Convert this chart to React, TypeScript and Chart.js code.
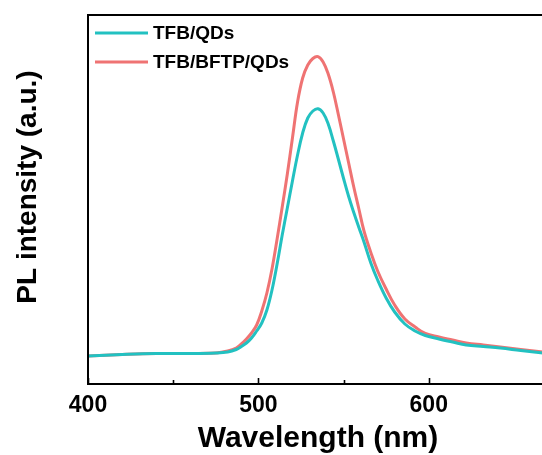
import { useEffect, useRef } from "react";
import { Chart, registerables } from "chart.js";

Chart.register(...registerables);

// Emission wavelength grid (nm)
const wavelengths = [
  400, 420, 440, 460, 475, 482, 487, 490, 493, 496, 499, 502, 505, 508, 511, 514,
  517, 520, 523, 526, 529, 532, 535, 538, 541, 544, 547, 550, 553, 556, 559, 562,
  566, 570, 575, 580, 586, 592, 598, 606, 614, 622, 632, 642, 654, 667,
];

// PL intensity (a.u.) for each film stack
const tfbQds = [
  28, 29.5, 30.5, 30.5, 31, 32, 34.5, 37.5, 41, 46, 53, 61, 74, 94, 120, 149,
  176, 203, 229, 251, 266, 273, 275.3, 271, 260, 243, 224.5, 205.5, 187.5, 171.5, 156.5, 142,
  121, 104, 86, 72, 60, 53, 48.5, 45, 42, 39, 37.5, 36, 33.5, 31,
];
const tfbBftpQds = [
  28, 29.5, 30.5, 30.5, 31, 33, 36, 40, 45, 51, 59, 73, 91, 115, 145, 177,
  210, 246, 282, 306, 319, 325.5, 327.3, 322, 310, 292, 269, 245, 221, 197, 175, 153,
  131.5, 113, 95, 79, 65, 57, 50.5, 47, 44, 41, 39, 37, 34.5, 32,
];

const seriesLabels = ["TFB/QDs", "TFB/BFTP/QDs"];
const seriesColors = ["#22c1c1", "#ef7373"];

const xTitle = "Wavelength (nm)";
const yTitle = "PL intensity (a.u.)";

const X_MIN = 400;
const X_MAX = 670;
const X_STEP = 50;
const X_LABEL_STEP = 100;
const Y_MIN = 0;
const Y_MAX = 369;

const FONT = 'Arial, "Liberation Sans", Helvetica, sans-serif';

// Closed frame, inward tick marks, the vertical axis title and the in-plot legend
const framePlugin = {
  id: "frameAndLegend",
  afterDraw(chart: any) {
    const { ctx, chartArea: a, scales } = chart;
    ctx.save();
    ctx.strokeStyle = "#000";
    ctx.lineWidth = 2;
    ctx.strokeRect(a.left, a.top, a.right - a.left, a.bottom - a.top);

    const xs = scales.x;
    ctx.lineWidth = 1.6;
    xs.ticks.forEach((t: any) => {
      const px = Math.round(xs.getPixelForValue(t.value)) + 0.5;
      const len = t.value % X_LABEL_STEP === 0 ? 6 : 4;
      ctx.beginPath();
      ctx.moveTo(px, a.bottom);
      ctx.lineTo(px, a.bottom - len);
      ctx.stroke();
    });

    // vertical axis title
    ctx.save();
    ctx.translate(28, 187);
    ctx.rotate(-Math.PI / 2);
    ctx.fillStyle = "#000";
    ctx.font = `bold 28px ${FONT}`;
    ctx.textAlign = "center";
    ctx.textBaseline = "middle";
    ctx.fillText(yTitle, 0, 0);
    ctx.restore();

    chart.data.datasets.forEach((ds: any, i: number) => {
      const y = a.top + 18 + i * 29;
      ctx.strokeStyle = ds.borderColor;
      ctx.lineWidth = 3;
      ctx.beginPath();
      ctx.moveTo(a.left + 7, y);
      ctx.lineTo(a.left + 60, y);
      ctx.stroke();
      ctx.fillStyle = "#000";
      ctx.font = `bold 19px ${FONT}`;
      ctx.textBaseline = "middle";
      ctx.textAlign = "left";
      ctx.fillText(ds.label, a.left + 65, y + 1);
    });
    ctx.restore();
  },
};

export default function App() {
  const canvasRef = useRef<HTMLCanvasElement | null>(null);

  useEffect(() => {
    const canvas = canvasRef.current;
    if (!canvas) return;
    const series = [tfbQds, tfbBftpQds];
    const chart = new Chart(canvas, {
      type: "line",
      data: {
        datasets: series.map((vals, i) => ({
          label: seriesLabels[i],
          data: wavelengths.map((w, j) => ({ x: w, y: vals[j] })),
          borderColor: seriesColors[i],
          borderWidth: 3,
          pointRadius: 0,
          fill: false,
          tension: 0.4,
        })),
      },
      options: {
        responsive: false,
        animation: false,
        events: [],
        layout: { padding: { top: 15, right: 12, bottom: 0, left: 0 } },
        plugins: {
          legend: { display: false },
          tooltip: { enabled: false },
        },
        scales: {
          x: {
            type: "linear",
            min: X_MIN,
            max: X_MAX,
            grid: { display: false, drawTicks: false },
            border: { display: false },
            ticks: {
              stepSize: X_STEP,
              autoSkip: false,
              maxRotation: 0,
              padding: 8,
              color: "#000",
              font: { family: FONT, size: 23, weight: "bold" },
              callback: (v: any) => (Number(v) % X_LABEL_STEP === 0 ? String(v) : ""),
            },
            title: {
              display: true,
              text: xTitle,
              color: "#000",
              font: { family: FONT, size: 30, weight: "bold" },
              padding: { top: 0, bottom: -2 },
            },
            afterFit: (scale: any) => {
              scale.height = 71;
            },
          },
          y: {
            min: Y_MIN,
            max: Y_MAX,
            grid: { display: false, drawTicks: false },
            border: { display: false },
            ticks: { display: false },
            title: { display: false },
            afterFit: (scale: any) => {
              scale.width = 88;
            },
          },
        },
      },
      plugins: [framePlugin],
    });
    return () => chart.destroy();
  }, []);

  return (
    <div
      style={{
        position: "fixed",
        left: 0,
        top: 0,
        width: 542,
        height: 455,
        overflow: "hidden",
        background: "#fff",
      }}
    >
      <canvas ref={canvasRef} width={560} height={455} style={{ display: "block" }} />
    </div>
  );
}
